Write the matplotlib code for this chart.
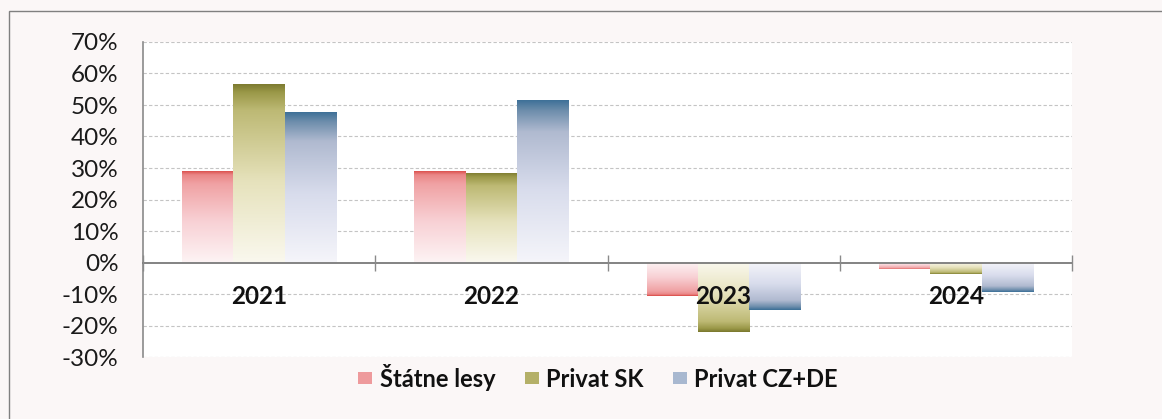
import numpy as np
import matplotlib
matplotlib.use("Agg")
import matplotlib.pyplot as plt
from matplotlib.colors import LinearSegmentedColormap
from matplotlib.patches import Rectangle, Patch

# ---- data ----
categories = ["2021", "2022", "2023", "2024"]
series_names = ["Štátne lesy", "Privat SK", "Privat CZ+DE"]
statne_lesy = [29.2, 29.2, -10.7, -2.2]
privat_sk = [56.6, 28.3, -22.0, -3.5]
privat_czde = [47.9, 51.5, -15.1, -9.4]
y_ticks = [-30, -20, -10, 0, 10, 20, 30, 40, 50, 60, 70]

series_values = [statne_lesy, privat_sk, privat_czde]

# gradient stops per series (0 = near zero line, 1 = value end)
grad_stops = [
    [(0.0, "#fdf3f4"), (0.45, "#f8d0d4"), (0.85, "#f0a2a4"), (0.95, "#ea8686"), (1.0, "#d84440")],
    [(0.0, "#faf8ee"), (0.45, "#e6e2bc"), (0.85, "#bdb974"), (0.95, "#9a9848"), (1.0, "#7a782e")],
    [(0.0, "#f5f5fa"), (0.45, "#d8dcec"), (0.8, "#b0bad0"), (0.93, "#6e8eac"), (1.0, "#3a6e96")],
]
legend_colors = ["#ee9a9c", "#b4b068", "#a8b8d0"]

plt.rcParams["font.family"] = ["Lato", "DejaVu Sans"]

W, H = 1162, 419
fig = plt.figure(figsize=(W / 100, H / 100), dpi=100)
fig.patch.set_facecolor("#fbf7f7")

# outer frame
fig.add_artist(Rectangle((9 / W, -0.05), 1.2, (H - 11) / H + 0.05, transform=fig.transFigure,
                         fill=False, edgecolor="#808080", linewidth=1.0))

left, right = 143 / W, 1072 / W
top, bottom = 1 - 42 / H, 1 - 357 / H
ax = fig.add_axes([left, bottom, right - left, top - bottom])
ax.set_facecolor("white")

n_series = len(series_values)
bar_w = 0.221
x = np.arange(len(categories))

for i, (vals, stops) in enumerate(zip(series_values, grad_stops)):
    cmap = LinearSegmentedColormap.from_list(f"g{i}", stops)
    offs = (i - (n_series - 1) / 2) * bar_w
    bars = ax.bar(x + offs, vals, width=bar_w, color="none", edgecolor="none", zorder=2)
    for b, v in zip(bars, vals):
        x0, w = b.get_x(), b.get_width()
        grad = np.linspace(0, 1, 256).reshape(-1, 1)
        im = ax.imshow(grad, cmap=cmap, aspect="auto", extent=(x0, x0 + w, 0, v),
                       origin="lower", interpolation="bilinear", zorder=2)
        im.set_clip_path(b)

ax.set_xlim(-0.5, len(categories) - 0.5)
ax.set_ylim(min(y_ticks), max(y_ticks))

# grid (drawn manually so axis labels stay above bars)
for t in y_ticks:
    if t != 0:
        ax.axhline(t, color="#c4c4c4", linestyle=(0, (3, 2)), linewidth=0.8, zorder=0.5)

ax.set_yticks(y_ticks)
ax.set_yticklabels([f"{t}%" for t in y_ticks])
ax.tick_params(axis="y", length=0, pad=17.5, labelsize=17.5, colors="#1a1a1a")

# spines
for s in ["top", "right"]:
    ax.spines[s].set_visible(False)
ax.spines["left"].set_color("#8a8a8a")
ax.spines["left"].set_linewidth(1.2)
ax.spines["bottom"].set_position(("data", 0))
ax.spines["bottom"].set_color("#7a7a7a")
ax.spines["bottom"].set_linewidth(1.3)
ax.spines["bottom"].set_zorder(3)

ax.set_xticks(x)
ax.set_xticklabels(categories, fontweight="bold")
ax.tick_params(axis="x", which="major", length=0, pad=16, labelsize=17.5, colors="#111111")
ax.set_xticks(np.arange(len(categories) + 1) - 0.5, minor=True)
ax.tick_params(axis="x", which="minor", direction="inout", length=12, width=1.0, color="#8a8a8a")
ax.xaxis.set_zorder(4)

# legend
handles = [Patch(facecolor=c, edgecolor="none") for c in legend_colors]
leg = fig.legend(handles, series_names, loc="center", bbox_to_anchor=(598 / W, 1 - 377 / H),
                 ncol=3, frameon=False, handlelength=0.6, handleheight=0.35,
                 handletextpad=0.3, columnspacing=1.25,
                 prop={"weight": "bold", "size": 17})
for t in leg.get_texts():
    t.set_color("#111111")

fig.savefig("out.png", dpi=100, facecolor=fig.get_facecolor())
